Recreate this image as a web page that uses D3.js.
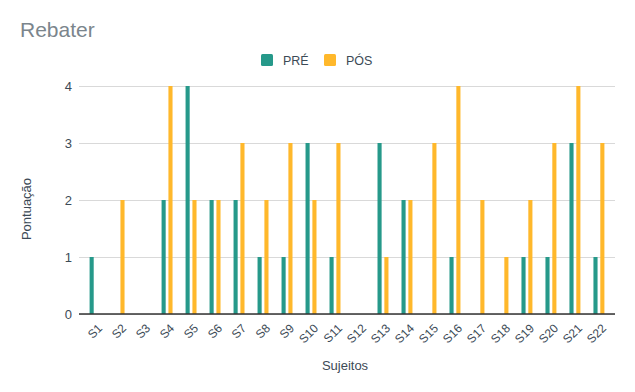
<!DOCTYPE html>
<html>
<head>
<meta charset="utf-8">
<script src="https://cdn.jsdelivr.net/npm/d3@7"></script>
<style>
  body { margin: 0; background: #fff; }
  text { font-family: "Liberation Sans", Arial, sans-serif; }
</style>
</head>
<body>
<svg width="635" height="392"></svg>
<script>
// values
let subjects = ['S1','S2','S3','S4','S5','S6','S7','S8','S9','S10','S11',
  'S12','S13','S14','S15','S16','S17','S18','S19','S20','S21','S22']
let pre  = [1, 0, 0, 2, 4, 2, 2, 1, 1, 3, 1, 0, 3, 2, 0, 1, 0, 0, 1, 1, 3, 1]
let post = [0, 2, 0, 4, 2, 2, 3, 2, 3, 2, 3, 0, 1, 2, 3, 4, 2, 1, 2, 3, 4, 3]
let seriesNames = ['PRÉ', 'PÓS']
let yTicks = [0, 1, 2, 3, 4]

let seriesColor = { 'PRÉ': '#26998a', 'PÓS': '#ffb82b' }
let fontFamily = '"Liberation Sans", Arial, sans-serif'

let margin = { left: 79, right: 20, top: 86, bottom: 78 }
let width = 635, height = 392

let svg = d3.select('svg')

let x = d3.scaleBand()
  .domain(subjects)
  .range([margin.left, width - margin.right])
  .paddingInner(0)
  .paddingOuter(0.17)

let xInner = d3.scaleBand()
  .domain(seriesNames)
  .range([0, x.bandwidth()])
  .paddingInner(0.4)
  .paddingOuter(0.95)

let y = d3.scaleLinear()
  .domain([0, 4])
  .range([height - margin.bottom, margin.top])

// title
svg.append('text')
  .attr('x', 20)
  .attr('y', 37)
  .attr('font-size', 21)
  .attr('fill', '#7b858c')
  .text('Rebater')

// gridlines + y labels
let yAxis = svg.append('g')
  .attr('transform', 'translate(' + margin.left + ',0)')
  .call(d3.axisLeft(y).tickValues(yTicks).tickFormat(d3.format('d'))
    .tickSize(-(width - margin.left - margin.right)).tickPadding(7))
yAxis.select('.domain').remove()
yAxis.selectAll('.tick line').attr('stroke', '#d9d9d9').attr('stroke-width', 1)
yAxis.selectAll('.tick text').attr('font-size', 13).attr('fill', '#3c4a56')
  .attr('font-family', fontFamily)

// bars
let rows = subjects.map(function (s, i) {
  return { subject: s, values: [
    { name: 'PRÉ', value: pre[i] },
    { name: 'PÓS', value: post[i] }
  ] }
})

let groups = svg.selectAll('g.subject').data(rows)
  .enter().append('g')
  .attr('class', 'subject')
  .attr('transform', function (d) { return 'translate(' + x(d.subject) + ',0)' })

groups.selectAll('rect').data(function (d) { return d.values })
  .enter().append('rect')
  .attr('x', function (d) { return xInner(d.name) })
  .attr('width', xInner.bandwidth())
  .attr('y', function (d) { return y(d.value) })
  .attr('height', function (d) { return y(0) - y(d.value) })
  .attr('fill', function (d) { return seriesColor[d.name] })

// x axis
let xAxis = svg.append('g')
  .attr('transform', 'translate(0,' + y(0) + ')')
  .call(d3.axisBottom(x).tickSize(0))
xAxis.select('.domain').remove()
xAxis.selectAll('.tick text')
  .attr('font-size', 12)
  .attr('fill', '#3c4a56')
  .attr('font-family', fontFamily)
  .attr('text-anchor', 'end')
  .attr('x', 0)
  .attr('y', 0)
  .attr('dy', '0.35em')
  .attr('transform', 'translate(5,12) rotate(-45)')

svg.append('line')
  .attr('x1', margin.left)
  .attr('x2', width - margin.right)
  .attr('y1', y(0))
  .attr('y2', y(0))
  .attr('stroke', '#333')
  .attr('stroke-width', 1.5)

// axis titles
svg.append('text')
  .attr('x', 345)
  .attr('y', 370)
  .attr('text-anchor', 'middle')
  .attr('font-size', 13)
  .attr('fill', '#3c4a56')
  .text('Sujeitos')

svg.append('text')
  .attr('transform', 'translate(31,209) rotate(-90)')
  .attr('text-anchor', 'middle')
  .attr('font-size', 13)
  .attr('fill', '#3c4a56')
  .text('Pontuação')

// legend
let legend = svg.selectAll('g.legend').data(seriesNames)
  .enter().append('g')
  .attr('class', 'legend')
  .attr('transform', function (d, i) { return 'translate(' + (261 + i * 63) + ',54)' })

legend.append('rect')
  .attr('width', 12)
  .attr('height', 12)
  .attr('rx', 1.5)
  .attr('fill', function (d) { return seriesColor[d] })

legend.append('text')
  .attr('x', 22)
  .attr('y', 11)
  .attr('font-size', 12.5)
  .attr('fill', '#3c4a56')
  .text(function (d) { return d })
</script>
</body>
</html>
